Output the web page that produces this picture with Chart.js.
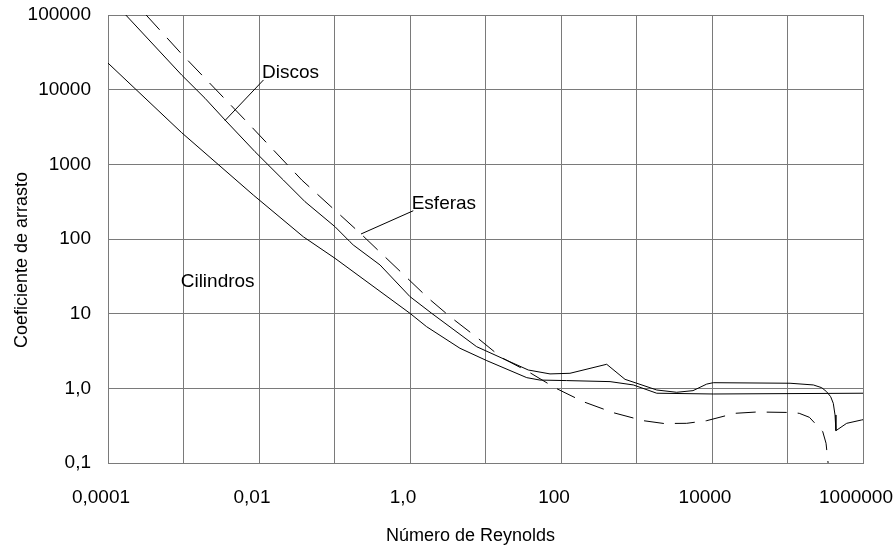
<!DOCTYPE html>
<html>
<head>
  <meta charset="utf-8">
  <title>Coeficiente de arrasto</title>
  <script src="https://cdn.jsdelivr.net/npm/chart.js@4.4.1/dist/chart.umd.min.js"></script>
  <style>
    body { margin: 0; background: #fff; }
    #wrap { width: 893px; height: 557px; }
  </style>
</head>
<body>
<div id="wrap"><canvas id="grafico"></canvas></div>

<script>
// Numero de Reynolds (x) e coeficiente de arrasto (y)
var reDiscos = [1.72e-4, 9.46e-4, 1.93e-3, 3.55e-3, 8.85e-3, 0.021, 0.0407, 0.1016, 0.160, 0.177, 0.401, 1.0,
                1.94, 7.64, 21.1, 36.9, 71.5, 131.5, 403, 705, 1007, 1854, 3404, 5600, 8510, 10400,
                1.08e5, 2.2e5, 2.84e5, 3.3e5, 3.73e5, 4.04e5, 4.26e5, 4.38e5, 6.08e5, 9.6e5, 1e6];
var cdDiscos = [100000, 15700, 7660, 3925, 1477, 617, 316, 146, 92, 83.2, 44.9, 16.9,
                10.1, 3.61, 2.27, 1.76, 1.56, 1.59, 2.10, 1.32, 1.17, 0.95, 0.885, 0.931, 1.14, 1.19,
                1.17, 1.11, 1.02, 0.90, 0.773, 0.63, 0.44, 0.271, 0.340, 0.377, 0.38];

var reCilindros = [1e-4, 9.46e-4, 8.41e-3, 0.0387, 0.1016, 1.0, 1.66, 4.59, 10.4, 35.2, 52.7,
                   119, 446, 908, 1854, 10400, 1e6];
var cdCilindros = [22700, 2654, 388, 107, 55.1, 10.1, 6.69, 3.44, 2.35, 1.39, 1.29,
                   1.27, 1.23, 1.11, 0.86, 0.84, 0.86];

var reEsferas = [3.2e-4, 9.27e-4, 7.08e-3, 0.0368, 0.218, 1.75, 3.39, 7.64, 16.4, 36.9, 85.9, 197, 493,
                 1230, 2310, 4620, 8510, 20200, 39400, 1.08e5, 1.43e5, 1.95e5, 2.93e5, 3.24e5, 3.47e5, 3.5e5];
var cdEsferas = [100000, 30700, 3610, 617, 120, 16.1, 9.12, 4.83, 2.57, 1.67, 1.0, 0.663, 0.472,
                 0.369, 0.338, 0.340, 0.369, 0.463, 0.482, 0.475, 0.463, 0.409, 0.263, 0.184, 0.094, 0.08];

// linhas de chamada dos rotulos
var chamadaDiscosX = [3.55e-3, 0.01148];
var chamadaDiscosY = [3865, 13500];
var chamadaEsferasX = [0.2244, 1.106];
var chamadaEsferasY = [116.7, 239];

var rotulos = ['Discos', 'Esferas', 'Cilindros'];
var rotuloX = [0.01097, 1.053, 9.18e-4];
var rotuloY = [14300, 252, 22.7];

var xGrid = [1e-4, 1e-3, 0.01, 0.1, 1, 10, 100, 1e3, 1e4, 1e5, 1e6];
var xTickText = ['0,0001', '', '0,01', '', '1,0', '', '100', '', '10000', '', '1000000'];
var yGrid = [0.1, 1, 10, 100, 1000, 10000, 100000];
var yTickText = ['0,1', '1,0', '10', '100', '1000', '10000', '100000'];

var fonte = '"Liberation Sans", Arial, sans-serif';
var cinza = '#7a7a7a';

function pontos(xs, ys) {
  return xs.map(function(x, i) { return {x: x, y: ys[i]}; });
}

function serie(nome, xs, ys, traco) {
  return {
    label: nome,
    data: pontos(xs, ys),
    borderColor: '#000',
    borderWidth: 1,
    borderDash: traco || [],
    pointRadius: 0,
    fill: false,
    tension: 0
  };
}

var textos = {
  id: 'textos',
  afterDatasetsDraw: function(chart) {
    var ctx = chart.ctx;
    var sx = chart.scales.x, sy = chart.scales.y, a = chart.chartArea;
    ctx.save();
    ctx.fillStyle = '#000';
    ctx.textBaseline = 'alphabetic';
    ctx.font = '19px ' + fonte;
    ctx.textAlign = 'left';
    for (var i = 0; i < rotulos.length; i++) {
      ctx.fillText(rotulos[i], sx.getPixelForValue(rotuloX[i]), sy.getPixelForValue(rotuloY[i]));
    }
    ctx.font = '18px ' + fonte;
    ctx.textAlign = 'center';
    ctx.fillText('Número de Reynolds', (a.left + a.right) / 2 - 15, a.bottom + 78);
    ctx.translate(27, (a.top + a.bottom) / 2 + 21);
    ctx.rotate(-Math.PI / 2);
    ctx.fillText('Coeficiente de arrasto', 0, 0);
    ctx.restore();
  }
};

var ctx = document.getElementById('grafico').getContext('2d');
var chart = new Chart(ctx, {
  type: 'line',
  data: {
    datasets: [
      serie('Discos', reDiscos, cdDiscos),
      serie('Cilindros', reCilindros, cdCilindros),
      serie('Esferas', reEsferas, cdEsferas, [20, 11]),
      serie('', chamadaDiscosX, chamadaDiscosY),
      serie('', chamadaEsferasX, chamadaEsferasY)
    ]
  },
  options: {
    responsive: true,
    maintainAspectRatio: false,
    animation: false,
    layout: { padding: { top: 15, right: 30, left: 0, bottom: 0 } },
    plugins: {
      legend: { display: false },
      tooltip: { enabled: false }
    },
    scales: {
      x: {
        type: 'logarithmic',
        min: 1e-4,
        max: 1e6,
        afterBuildTicks: function(s) {
          s.ticks = xGrid.map(function(v) { return {value: v}; });
        },
        afterFit: function(s) {
          s.height = 94;
          s.paddingLeft = 0;
          s.paddingRight = 0;
        },
        grid: { color: cinza, drawTicks: false },
        border: { color: cinza },
        ticks: {
          autoSkip: false,
          maxRotation: 0,
          padding: 23,
          labelOffset: -7,
          color: '#000',
          font: { family: fonte, size: 19 },
          callback: function(v, i) { return xTickText[i]; }
        }
      },
      y: {
        type: 'logarithmic',
        min: 0.1,
        max: 100000,
        afterBuildTicks: function(s) {
          s.ticks = yGrid.map(function(v) { return {value: v}; });
        },
        afterFit: function(s) {
          s.width = 108;
          s.paddingTop = 0;
          s.paddingBottom = 0;
        },
        grid: { color: cinza, drawTicks: false },
        border: { color: cinza },
        ticks: {
          autoSkip: false,
          padding: 17,
          color: '#000',
          font: { family: fonte, size: 19 },
          callback: function(v, i) { return yTickText[i]; }
        }
      }
    }
  },
  plugins: [textos]
});
</script>
</body>
</html>
